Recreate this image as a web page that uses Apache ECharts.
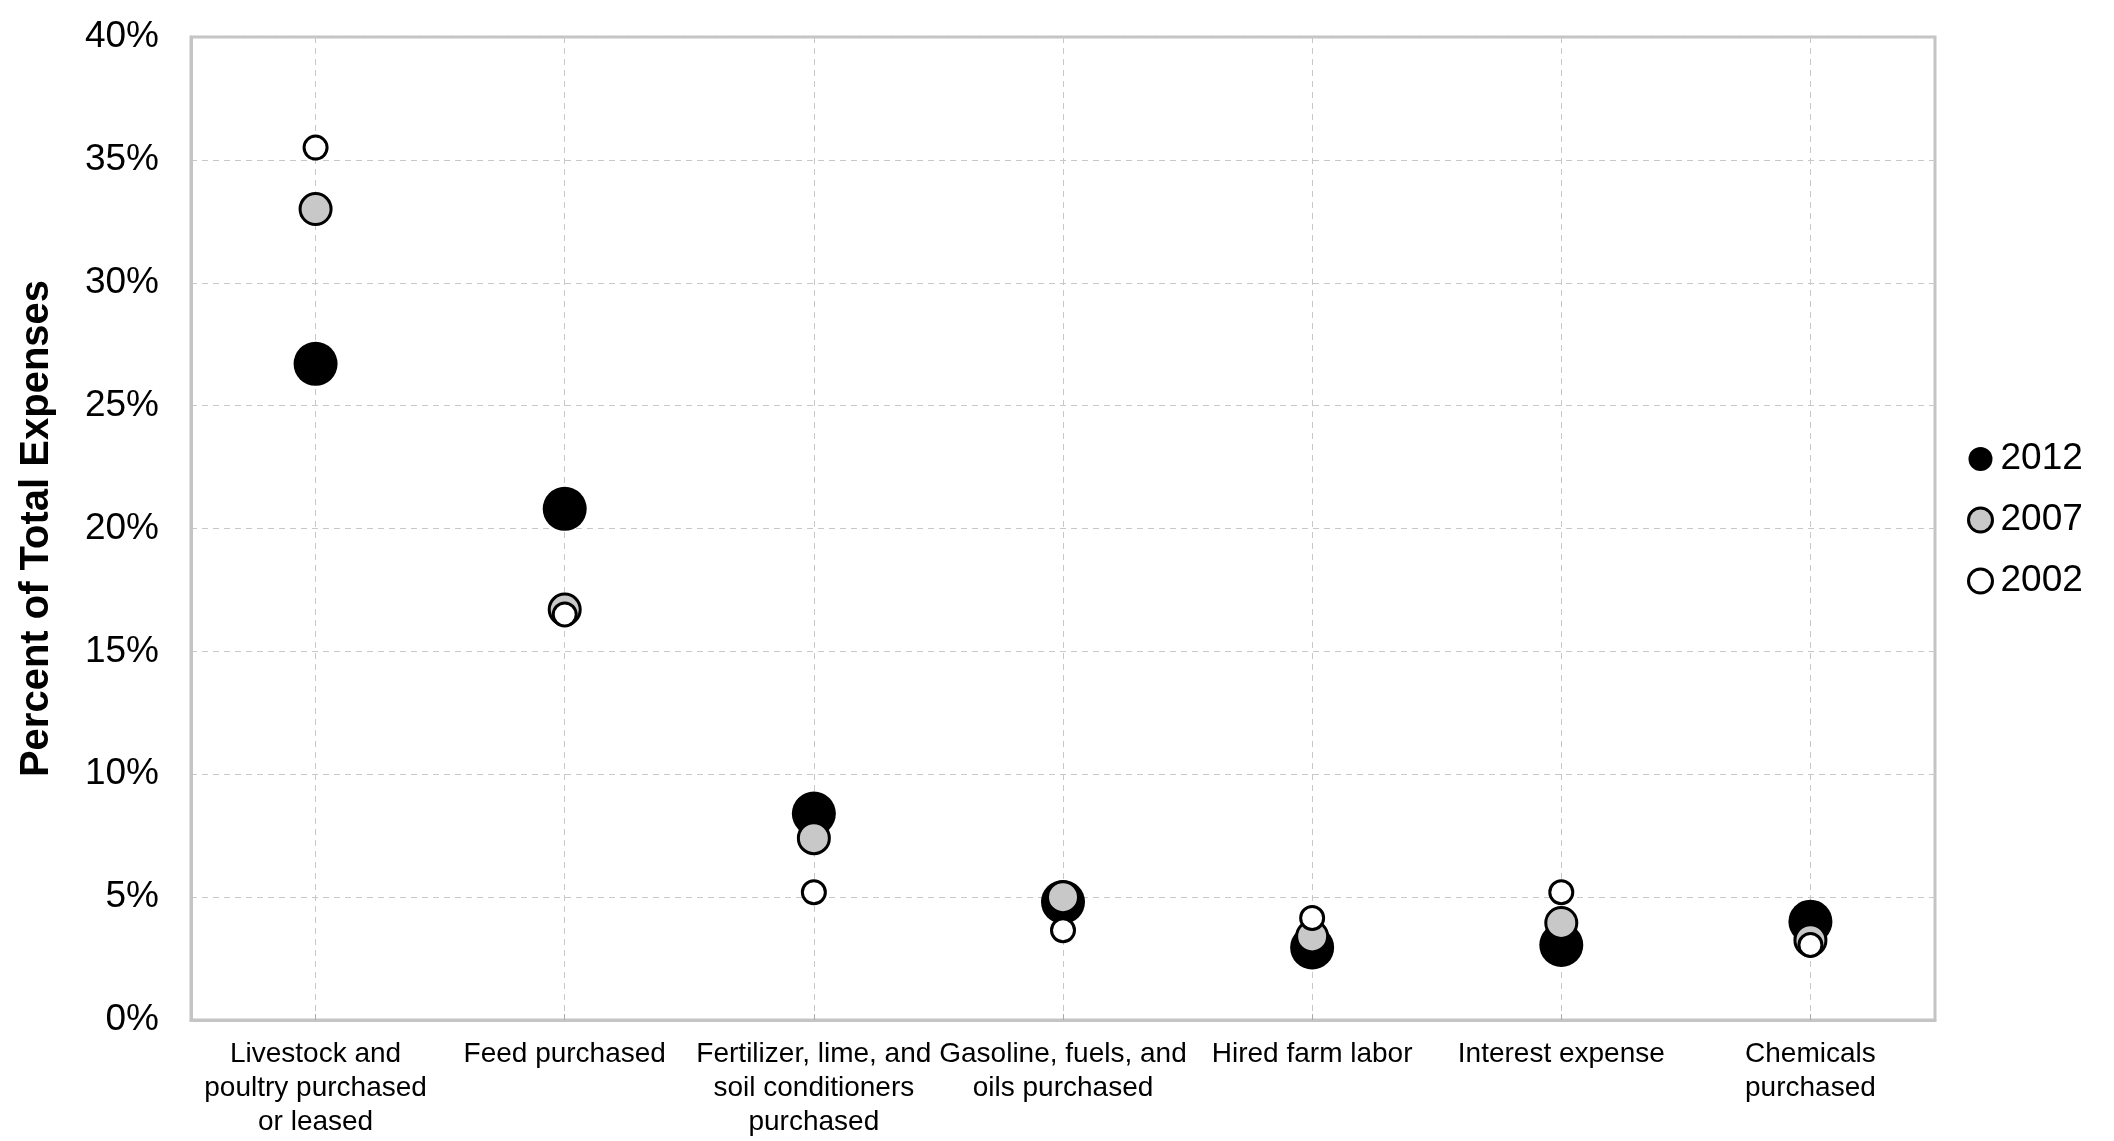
<!DOCTYPE html>
<html>
<head>
<meta charset="utf-8">
<script src="https://cdn.jsdelivr.net/npm/echarts@6/dist/echarts.min.js"></script>
<style>html,body{margin:0;padding:0;background:#fff}#c{width:2114px;height:1141px}</style>
</head>
<body>
<div id="c"></div>
<script>
const categories = [
  "Livestock and\npoultry purchased\nor leased",
  "Feed purchased",
  "Fertilizer, lime, and\nsoil conditioners\npurchased",
  "Gasoline, fuels, and\noils purchased",
  "Hired farm labor",
  "Interest expense",
  "Chemicals\npurchased"
];
const values2012 = [26.7, 20.8, 8.4, 4.8, 2.95, 3.05, 4.0];
const values2007 = [33.0, 16.7, 7.4, 5.0, 3.4, 3.95, 3.25];
const values2002 = [35.5, 16.5, 5.2, 3.65, 4.15, 5.2, 3.05];
const yTicks = [0, 5, 10, 15, 20, 25, 30, 35, 40];

const FONT = "'Liberation Sans', Arial, Helvetica, sans-serif";
const chart = echarts.init(document.getElementById('c'));
chart.setOption({
  animation: false,
  backgroundColor: '#ffffff',
  textStyle: { fontFamily: FONT, color: '#000' },
  grid: {
    left: 191, right: 179, top: 37, bottom: 121,
    outerBoundsMode: 'none', containLabel: false,
    show: true, borderColor: '#c4c4c4', borderWidth: 3, backgroundColor: 'transparent'
  },
  legend: {
    orient: 'vertical',
    left: 1962, top: 434,
    itemWidth: 24, itemHeight: 24, itemGap: 21,
    icon: 'circle',
    textStyle: { fontFamily: FONT, fontSize: 37, color: '#000', lineHeight: 40, padding: [0,0,0,3] },
    data: [
      { name: '2012', itemStyle: { color: '#000', borderColor: '#000', borderWidth: 0 } },
      { name: '2007', itemStyle: { color: '#c8c8c8', borderColor: '#000', borderWidth: 3 } },
      { name: '2002', itemStyle: { color: '#fff', borderColor: '#000', borderWidth: 3 } }
    ]
  },
  xAxis: {
    type: 'category',
    data: categories,
    boundaryGap: true,
    axisLine: { show: true, lineStyle: { color: '#c4c4c4', width: 3 } },
    axisTick: { show: true, inside: true, alignWithLabel: true, length: 6, lineStyle: { color: '#aaa', width: 1 } },
    axisLabel: { interval: 0, fontFamily: FONT, fontSize: 28, lineHeight: 34, color: '#000', margin: 17 },
    splitLine: { show: true, alignWithLabel: true, lineStyle: { color: '#c8c8c8', type: [6, 5], width: 1 } }
  },
  yAxis: {
    type: 'value',
    min: yTicks[0], max: yTicks[yTicks.length - 1], interval: 5,
    name: 'Percent of Total Expenses',
    nameLocation: 'middle', nameRotate: 90, nameGap: 134,
    nameTextStyle: { fontFamily: FONT, fontSize: 40, fontWeight: 'bold', color: '#000' },
    axisLine: { show: true, lineStyle: { color: '#c4c4c4', width: 3 } },
    axisTick: { show: false },
    axisLabel: { formatter: '{value}%', fontFamily: FONT, fontSize: 37, color: '#000', margin: 32 },
    splitLine: { show: true, lineStyle: { color: '#c8c8c8', type: [6, 5], width: 1 } }
  },
  series: [
    { name: '2012', type: 'scatter', data: values2012, symbol: 'circle', symbolSize: 44,
      itemStyle: { color: '#000', borderColor: '#000', borderWidth: 0, opacity: 1 } },
    { name: '2007', type: 'scatter', data: values2007, symbol: 'circle', symbolSize: 31,
      itemStyle: { color: '#c8c8c8', borderColor: '#000', borderWidth: 3, opacity: 1 } },
    { name: '2002', type: 'scatter', data: values2002, symbol: 'circle', symbolSize: 23,
      itemStyle: { color: '#fff', borderColor: '#000', borderWidth: 3, opacity: 1 } }
  ]
});
</script>
</body>
</html>
